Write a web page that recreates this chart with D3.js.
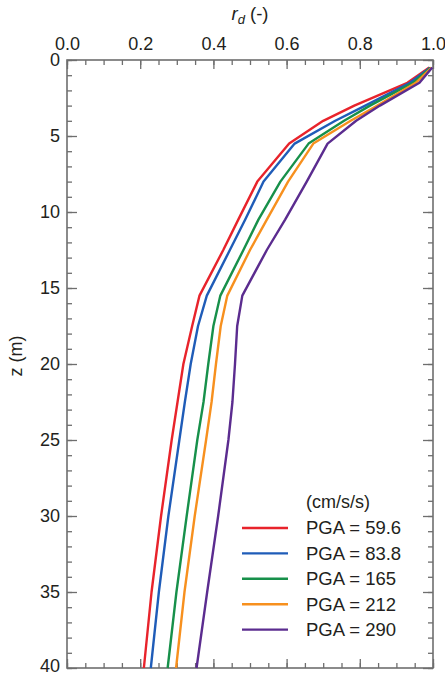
<!DOCTYPE html>
<html>
<head>
<meta charset="utf-8">
<script src="https://cdn.jsdelivr.net/npm/d3@7"></script>
<style>
  body { margin: 0; background: #fff; }
  svg { font-family: "Liberation Sans", Arial, sans-serif; }
</style>
</head>
<body>
<div id="chart"></div>
<script>
// depth below surface (m)
var depths = [0.5, 1.5, 3, 4, 5.5, 8, 10.5, 12.5, 15.5, 17.5, 20, 22.5, 25, 30, 35, 40];

// rd values for each PGA record
var rdPga596 = [0.99, 0.93, 0.785, 0.70, 0.607, 0.52, 0.468, 0.427, 0.362, 0.342, 0.318, 0.302, 0.286, 0.257, 0.231, 0.21];
var rdPga838 = [0.992, 0.937, 0.815, 0.733, 0.622, 0.537, 0.487, 0.445, 0.382, 0.358, 0.338, 0.322, 0.307, 0.277, 0.251, 0.229];
var rdPga165 = [0.994, 0.945, 0.828, 0.757, 0.66, 0.583, 0.523, 0.482, 0.419, 0.400, 0.386, 0.373, 0.356, 0.327, 0.299, 0.275];
var rdPga212 = [0.996, 0.953, 0.848, 0.775, 0.673, 0.604, 0.546, 0.500, 0.438, 0.420, 0.407, 0.395, 0.380, 0.349, 0.321, 0.298];
var rdPga290 = [0.998, 0.963, 0.855, 0.79, 0.712, 0.655, 0.596, 0.546, 0.479, 0.465, 0.459, 0.452, 0.441, 0.413, 0.383, 0.354];

var seriesLabels = ['PGA = 59.6', 'PGA = 83.8', 'PGA = 165', 'PGA = 212', 'PGA = 290'];
var seriesColors = ['#e8232b', '#1f5cb8', '#17904a', '#f7901e', '#5b2c8f'];
var legendTitle = '(cm/s/s)';

var xMajorTicks = [0, 0.2, 0.4, 0.6, 0.8, 1.0];
var yMajorTicks = [0, 5, 10, 15, 20, 25, 30, 35, 40];

var series = [rdPga596, rdPga838, rdPga165, rdPga212, rdPga290].map(function (vals, i) {
  return {
    label: seriesLabels[i],
    color: seriesColors[i],
    points: vals.map(function (v, j) { return { rd: v, z: depths[j] }; })
  };
});

var width = 445, height = 676;
var margin = { top: 60, right: 12, bottom: 8, left: 67 };
var innerW = 366, innerH = 608;

var svg = d3.select('#chart').append('svg')
  .attr('width', width)
  .attr('height', height);

var g = svg.append('g')
  .attr('transform', 'translate(' + margin.left + ',' + margin.top + ')');

var x = d3.scaleLinear().domain([0, 1]).range([0, innerW]);
var y = d3.scaleLinear().domain([0, 40]).range([0, innerH]);

var axisColor = '#6e6e6e';
var textColor = '#231f20';

function styleAxis(sel) {
  sel.select('.domain').remove();
  sel.selectAll('line').attr('stroke', axisColor).attr('stroke-width', 1.3);
  sel.selectAll('text').attr('fill', textColor).style('font-size', '18px');
}

var minorX = d3.range(0, 1.0001, 0.05);
var minorY = d3.range(0, 40.001, 1);

// top axis with labels
g.append('g').call(d3.axisTop(x).tickValues(minorX).tickSize(-5).tickFormat('')).call(styleAxis);
g.append('g').call(d3.axisTop(x).tickValues(xMajorTicks).tickSizeInner(-9).tickPadding(10)
  .tickFormat(d3.format('.1f'))).call(styleAxis);

// bottom axis (ticks only)
g.append('g').attr('transform', 'translate(0,' + innerH + ')')
  .call(d3.axisBottom(x).tickValues(minorX).tickSize(-5).tickFormat('')).call(styleAxis);
g.append('g').attr('transform', 'translate(0,' + innerH + ')')
  .call(d3.axisBottom(x).tickValues(xMajorTicks).tickSize(-9).tickFormat('')).call(styleAxis);

// left axis with labels
g.append('g').call(d3.axisLeft(y).tickValues(minorY).tickSize(-5).tickFormat('')).call(styleAxis);
var yAxisG = g.append('g').call(d3.axisLeft(y).tickValues(yMajorTicks).tickSizeInner(-10).tickPadding(7)
  .tickFormat(d3.format('d'))).call(styleAxis);
// keep the bottom label inside the page
yAxisG.selectAll('text').filter(function (d) { return d === 40; }).attr('dy', '0.22em');

// right axis (ticks only)
g.append('g').attr('transform', 'translate(' + innerW + ',0)')
  .call(d3.axisRight(y).tickValues(minorY).tickSize(-5).tickFormat('')).call(styleAxis);
g.append('g').attr('transform', 'translate(' + innerW + ',0)')
  .call(d3.axisRight(y).tickValues(yMajorTicks).tickSize(-10).tickFormat('')).call(styleAxis);

// frame
g.append('rect')
  .attr('width', innerW)
  .attr('height', innerH)
  .attr('fill', 'none')
  .attr('stroke', axisColor)
  .attr('stroke-width', 1.6);

// axis titles
var xTitle = svg.append('text')
  .attr('x', margin.left + innerW / 2)
  .attr('y', 20)
  .attr('text-anchor', 'middle')
  .attr('fill', textColor)
  .style('font-size', '18.5px');
xTitle.append('tspan').style('font-style', 'italic').text('r');
xTitle.append('tspan').style('font-style', 'italic').style('font-size', '13px').attr('dy', 4).text('d');
xTitle.append('tspan').attr('dy', -4).text(' (-)');

svg.append('text')
  .attr('transform', 'translate(22,' + (margin.top + innerH / 2 - 8) + ') rotate(-90)')
  .attr('text-anchor', 'middle')
  .attr('fill', textColor)
  .style('font-size', '18px')
  .text('z (m)');

// curves
var line = d3.line()
  .x(function (d) { return x(d.rd); })
  .y(function (d) { return y(d.z); });

g.selectAll('path.curve')
  .data(series)
  .enter()
  .append('path')
  .attr('class', 'curve')
  .attr('d', function (d) { return line(d.points); })
  .attr('fill', 'none')
  .attr('stroke', function (d) { return d.color; })
  .attr('stroke-width', 2.4)
  .attr('stroke-linejoin', 'round');

// legend
var legend = g.append('g').attr('transform', 'translate(175,442)');
legend.append('text')
  .attr('x', 64)
  .attr('y', 6)
  .attr('fill', textColor)
  .style('font-size', '18px')
  .text(legendTitle);

var items = legend.selectAll('g.item')
  .data(series)
  .enter()
  .append('g')
  .attr('class', 'item')
  .attr('transform', function (d, i) { return 'translate(0,' + (26 + i * 25.4) + ')'; });

items.append('line')
  .attr('x1', 0).attr('x2', 46)
  .attr('stroke', function (d) { return d.color; })
  .attr('stroke-width', 2.4);

items.append('text')
  .attr('x', 64)
  .attr('dy', '0.35em')
  .attr('fill', textColor)
  .style('font-size', '18.5px')
  .text(function (d) { return d.label; });
</script>
</body>
</html>
